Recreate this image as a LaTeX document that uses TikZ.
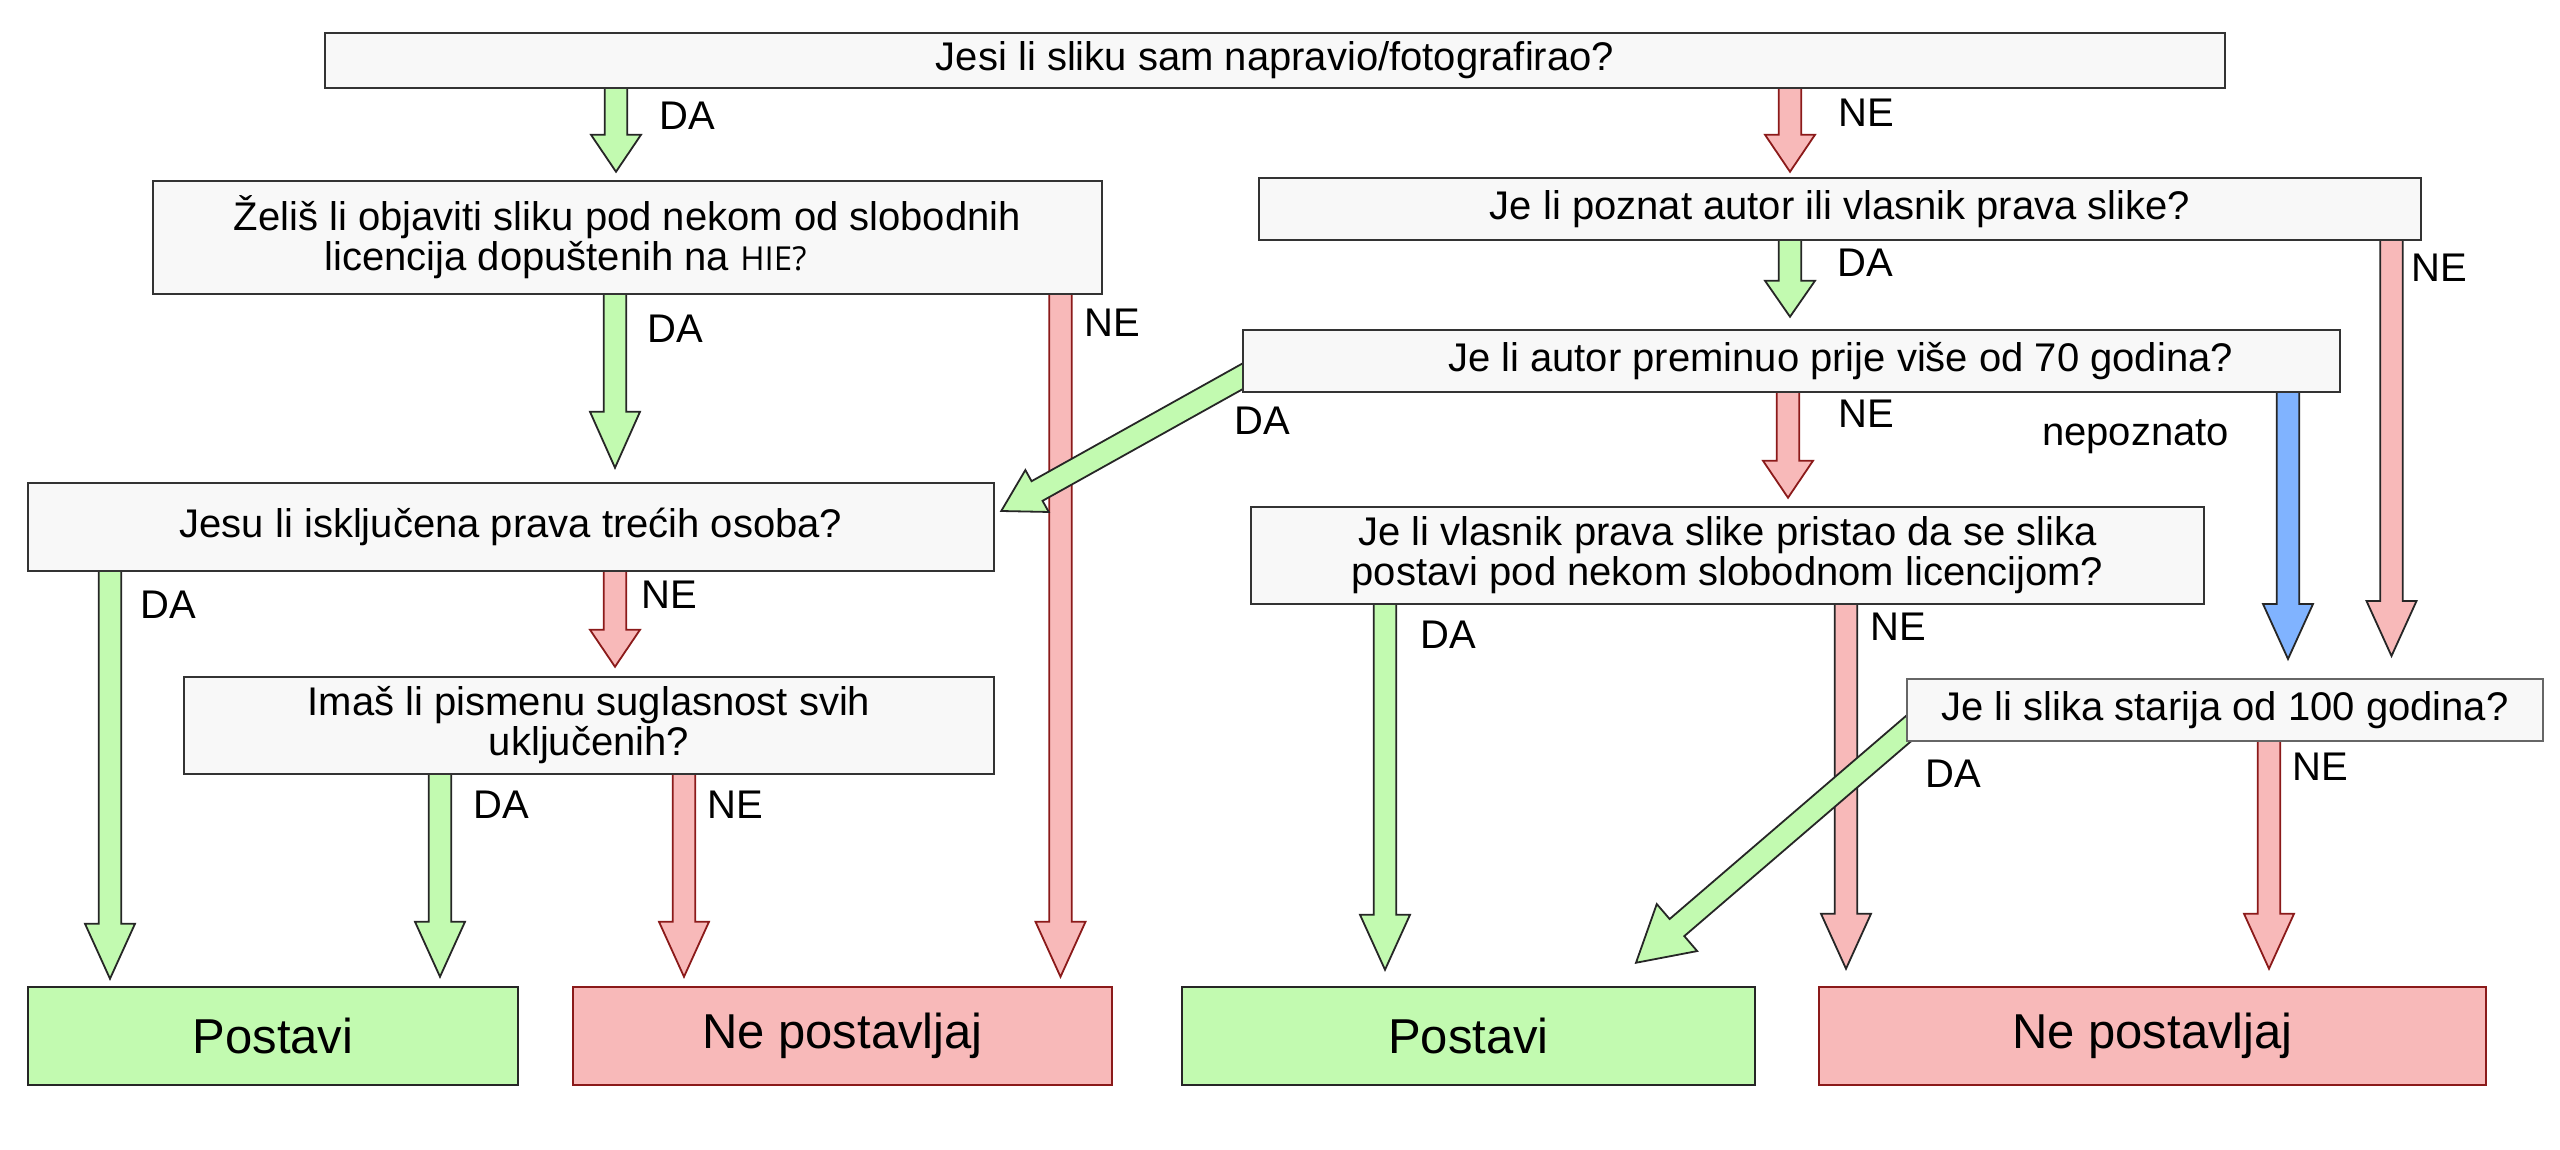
\documentclass[tikz,border=0pt]{standalone}
\usepackage{fontspec}
\setmainfont{Liberation Sans}
\newfontfamily\hiefont{Open Sans}
\usetikzlibrary{calc}
\pgfdeclarelayer{paper}
\pgfdeclarelayer{bg}
\pgfsetlayers{paper,bg,main}
\definecolor{qfill}{HTML}{F8F8F8}
\definecolor{gfill}{HTML}{C2FAB0}
\definecolor{pfill}{HTML}{F8B9B9}
\definecolor{bfill}{HTML}{80B3FF}
\definecolor{dred}{HTML}{8B1A1A}
\definecolor{qline}{HTML}{333333}
\tikzset{
  qbox/.style={draw=qline, fill=qfill, line width=2.5pt, inner sep=0pt, align=center,
    font=\fontsize{40}{40}\selectfont},
  okbox/.style={draw=black!85, fill=gfill, line width=2.5pt, inner sep=0pt,
    minimum height=98pt, font=\fontsize{49}{49}\selectfont},
  nobox/.style={draw=dred, fill=pfill, line width=2.5pt, inner sep=0pt,
    minimum height=98pt, font=\fontsize{49}{49}\selectfont},
  lab/.style={inner sep=0pt, anchor=base west, font=\fontsize{40}{40}\selectfont},
  garr/.style={draw=black!85, fill=gfill, line width=1.8pt, line join=miter},
  parr/.style={draw=dred, fill=pfill, line width=1.8pt, line join=miter},
  pkarr/.style={draw=black!85, fill=pfill, line width=1.8pt, line join=miter},
  barr/.style={draw=black!85, fill=bfill, line width=1.8pt, line join=miter},
}
% #1 style, #2 start, #3 tip, #4 head length, #5 head half width
\newcommand\blockarrow[5]{%
  \coordinate (hb) at ($(#3)!#4!(#2)$);
  \path[#1] ($(#2)!11.25pt!90:(#3)$) -- ($(hb)!11.25pt!90:(#3)$) --
    ($(hb)!#5!90:(#3)$) -- (#3) -- ($(hb)!#5!-90:(#3)$) --
    ($(hb)!11.25pt!-90:(#3)$) -- ($(#2)!11.25pt!-90:(#3)$) -- cycle;
}
\begin{document}
\begin{tikzpicture}[x=1pt,y=-1pt]
\useasboundingbox (0,0) rectangle (2560,1150);
\begin{pgfonlayer}{paper}
\fill[white] (0,0) rectangle (2560,1150);
\end{pgfonlayer}

% question boxes
\node[qbox, minimum width=1900pt, minimum height=55pt] (q1) at (1275,60.5)
  {Jesi li sliku sam napravio/fotografirao?};
\node[qbox, minimum width=949pt, minimum height=113pt] (q2) at (627.5,237.5)
  {Želiš li objaviti sliku pod nekom od slobodnih\\licencija dopuštenih na {\hiefont\fontsize{33}{40}\selectfont HIE?}\hspace*{124pt}};
\node[qbox, minimum width=1162pt, minimum height=62pt] (q3) at (1840,209)
  {Je li poznat autor ili vlasnik prava slike?};
\node[qbox, minimum width=1097pt, minimum height=62pt] (q4) at (1791.5,361)
  {\hspace*{98pt}Je li autor preminuo prije više od 70 godina?};
\node[qbox, minimum width=966pt, minimum height=88pt] (q5) at (511,527)
  {Jesu li isključena prava trećih osoba?};
\node[qbox, minimum width=953pt, minimum height=97pt] (q6) at (1727.5,555.5)
  {Je li vlasnik prava slike pristao da se slika\\postavi pod nekom slobodnom licencijom?};
\node[qbox, minimum width=810pt, minimum height=97pt] (q7) at (589,725.5)
  {Imaš li pismenu suglasnost svih\\uključenih?};
\node[qbox, draw=black!60, line width=2pt, minimum width=636pt, minimum height=62pt] (q8) at (2225,710)
  {Je li slika starija od 100 godina?};

% result boxes
\node[okbox, minimum width=490pt] (r1) at (273,1036) {Postavi};
\node[nobox, minimum width=539pt] (r2) at (842.5,1036) {Ne postavljaj};
\node[okbox, minimum width=573pt] (r3) at (1468.5,1036) {Postavi};
\node[nobox, minimum width=667pt] (r4) at (2152.5,1036) {Ne postavljaj};

% arrows
\begin{pgfonlayer}{bg}
\coordinate (a1s) at ([xshift=-659pt,yshift=2pt]q1.south);
\coordinate (a1e) at ([xshift=-11.5pt,yshift=8pt]q2.north);
\blockarrow{garr}{a1s}{a1e}{37pt}{25pt}
\coordinate (a2s) at ([xshift=515pt,yshift=2pt]q1.south);
\coordinate (a2e) at ([xshift=-50pt,yshift=5pt]q3.north);
\blockarrow{parr}{a2s}{a2e}{37pt}{25pt}
\coordinate (a3s) at ([xshift=-12.5pt,yshift=2pt]q2.south);
\coordinate (a3e) at ([xshift=104pt,yshift=14pt]q5.north);
\blockarrow{garr}{a3s}{a3e}{56pt}{25pt}
\coordinate (a4s) at ([xshift=433pt,yshift=2pt]q2.south);
\coordinate (a4e) at ([xshift=218pt,yshift=9pt]r2.north);
\blockarrow{parr}{a4s}{a4e}{55pt}{25pt}
\coordinate (a5s) at ([xshift=-50pt,yshift=2pt]q3.south);
\coordinate (a5e) at ([xshift=-1.5pt,yshift=12pt]q4.north);
\blockarrow{garr}{a5s}{a5e}{36pt}{25pt}
\coordinate (a6s) at ([xshift=551.5pt,yshift=2pt]q3.south);
\coordinate (a6e) at ([xshift=166.5pt,yshift=22pt]q8.north);
\blockarrow{pkarr}{a6s}{a6e}{55pt}{25pt}
\coordinate (a9s) at ([xshift=118.5pt,yshift=2pt]q6.south);
\coordinate (a9e) at ([xshift=-306.5pt,yshift=17pt]r4.north);
\blockarrow{pkarr}{a9s}{a9e}{55pt}{25pt}
\coordinate (a10s) at ([xshift=-342.5pt,yshift=2pt]q6.south);
\coordinate (a10e) at ([xshift=-83.5pt,yshift=16pt]r3.north);
\blockarrow{garr}{a10s}{a10e}{55pt}{25pt}
\coordinate (a11s) at ([xshift=-3.5pt,yshift=2pt]q4.south);
\coordinate (a11e) at ([xshift=60.5pt,yshift=8pt]q6.north);
\blockarrow{parr}{a11s}{a11e}{37pt}{25pt}
\coordinate (a12s) at ([xshift=496.5pt,yshift=2pt]q4.south);
\coordinate (a12e) at ([xshift=63pt,yshift=19pt]q8.north);
\blockarrow{barr}{a12s}{a12e}{55pt}{25pt}
\coordinate (a13s) at ([xshift=-401pt,yshift=2pt]q5.south);
\coordinate (a13e) at ([xshift=-163pt,yshift=7pt]r1.north);
\blockarrow{garr}{a13s}{a13e}{55pt}{25pt}
\coordinate (a14s) at ([xshift=104pt,yshift=2pt]q5.south);
\coordinate (a14e) at ([xshift=26pt,yshift=9pt]q7.north);
\blockarrow{parr}{a14s}{a14e}{37pt}{25pt}
\coordinate (a15s) at ([xshift=-149pt,yshift=2pt]q7.south);
\coordinate (a15e) at ([xshift=167pt,yshift=9pt]r1.north);
\blockarrow{garr}{a15s}{a15e}{55pt}{25pt}
\coordinate (a16s) at ([xshift=95pt,yshift=2pt]q7.south);
\coordinate (a16e) at ([xshift=-158.5pt,yshift=9pt]r2.north);
\blockarrow{parr}{a16s}{a16e}{55pt}{25pt}
\coordinate (a17s) at ([xshift=44pt,yshift=2pt]q8.south);
\coordinate (a17e) at ([xshift=116.5pt,yshift=17pt]r4.north);
\blockarrow{parr}{a17s}{a17e}{55pt}{25pt}
% diagonal arrows
\coordinate (a7s) at ([xshift=22pt,yshift=-3.5pt]q4.west);
\coordinate (a7e) at ([xshift=6pt,yshift=16pt]q5.east);
\blockarrow{garr}{a7s}{a7e}{41pt}{24pt}
\coordinate (a8s) at ([xshift=23pt,yshift=-1pt]q8.west);
\coordinate (a8e) at ([xshift=167.5pt,yshift=23pt]r3.north);
\blockarrow{garr}{a8s}{a8e}{54pt}{31pt}
\end{pgfonlayer}

% labels
\node[lab] (l1) at (659,130) {DA};
\node[lab] (l2) at (1838,127) {NE};
\node[lab] (l3) at (647,342) {DA};
\node[lab] (l4) at (1084,337) {NE};
\node[lab] (l5) at (1837,277) {DA};
\node[lab] (l6) at (2411,282) {NE};
\node[lab] (l7) at (1234,434) {DA};
\node[lab] (l11) at (1838,427) {NE};
\node[lab] (l12) at (2042,445) {nepoznato};
\node[lab] (l13) at (140,618) {DA};
\node[lab] (l14) at (641,608) {NE};
\node[lab] (l10) at (1420,648) {DA};
\node[lab] (l9) at (1870,640) {NE};
\node[lab] (l8) at (1925,787) {DA};
\node[lab] (l17) at (2292,780) {NE};
\node[lab] (l15) at (473,818) {DA};
\node[lab] (l16) at (707,818) {NE};
\end{tikzpicture}
\end{document}
